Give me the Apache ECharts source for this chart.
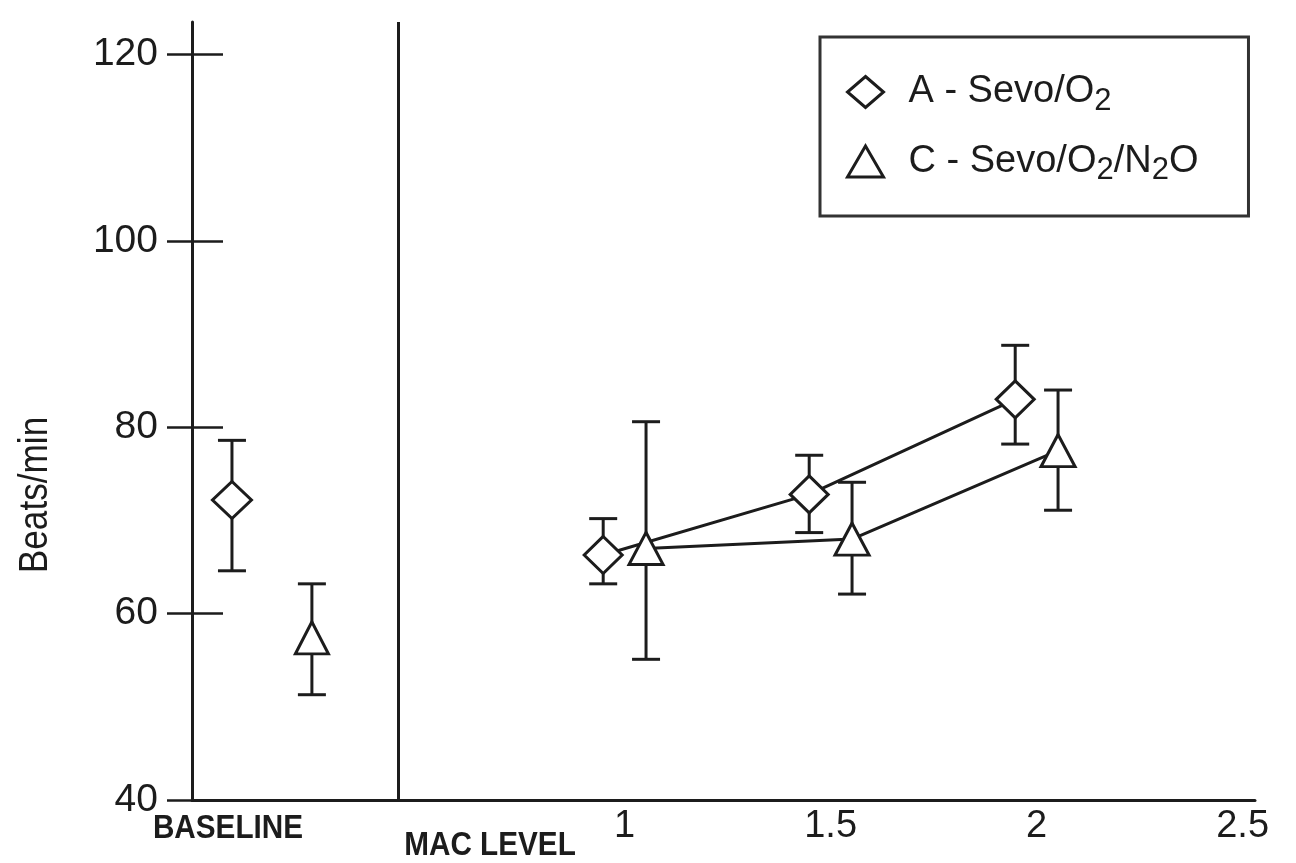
<!DOCTYPE html>
<html>
<head>
<meta charset="utf-8">
<script src="https://cdn.jsdelivr.net/npm/echarts@6/dist/echarts.min.js"></script>
<style>
html,body{margin:0;padding:0;background:#fff;}
#chart{width:1296px;height:863px;}
</style>
</head>
<body>
<div id="chart"></div>
<script>
// ---- data ----
const groups = ['A - Sevo/O2', 'C - Sevo/O2/N2O'];
const macLevels = [1, 1.5, 2];
const xTickLabels = [1, 1.5, 2, 2.5];
const yTickLabels = [40, 60, 80, 100, 120];

// baseline values [A, C]
const baseMean = [72.2, 57.4];
const baseLow  = [64.6, 51.3];
const baseHigh = [78.6, 63.2];

// group A at MAC 1, 1.5, 2
const aMean = [66.3, 72.8, 83.0];
const aLow  = [63.2, 68.7, 78.2];
const aHigh = [70.2, 77.0, 88.8];

// group C at MAC 1, 1.5, 2
const cMean = [67.0, 68.0, 77.5];
const cLow  = [55.1, 62.1, 71.1];
const cHigh = [80.6, 74.1, 84.0];

// ---- layout constants ----
const dodge = 0.052;
const baselinePos = [0.047, 0.241];
const separatorX = 0.445;
const INK = '#1c1c1c';
const capW = 28;
const FONT = 'Liberation Sans';

const markerStyle = {color: '#fff', borderColor: INK, borderWidth: 3, opacity: 1};

function renderErr(params, api) {
  const x = api.value(0);
  const top = api.coord([x, api.value(2)]);
  const bot = api.coord([x, api.value(1)]);
  const hw = capW / 2;
  const st = {stroke: INK, lineWidth: 3};
  return {
    type: 'group',
    children: [
      {type: 'line', shape: {x1: top[0], y1: top[1], x2: bot[0], y2: bot[1]}, style: st},
      {type: 'line', shape: {x1: top[0] - hw, y1: top[1], x2: top[0] + hw, y2: top[1]}, style: st},
      {type: 'line', shape: {x1: bot[0] - hw, y1: bot[1], x2: bot[0] + hw, y2: bot[1]}, style: st}
    ]
  };
}

const errA = macLevels.map((m, i) => [m - dodge, aLow[i], aHigh[i]]);
errA.push([baselinePos[0], baseLow[0], baseHigh[0]]);
const errC = macLevels.map((m, i) => [m + dodge, cLow[i], cHigh[i]]);
errC.push([baselinePos[1], baseLow[1], baseHigh[1]]);

const chart = echarts.init(document.getElementById('chart'), null, {renderer: 'canvas'});

const tickLine = {color: INK, width: 2.5};

chart.setOption({
  animation: false,
  backgroundColor: '#fff',
  grid: {left: 192, right: 41, top: 22, bottom: 63, containLabel: false, outerBoundsMode: 'none'},
  xAxis: {
    type: 'value', min: -0.05, max: 2.53,
    axisLine: {show: true, onZero: false, lineStyle: {color: INK, width: 3}},
    axisTick: {show: false},
    splitLine: {show: false},
    axisLabel: {
      customValues: xTickLabels,
      formatter: v => String(v),
      fontFamily: FONT, fontSize: 38, color: INK, margin: 8
    }
  },
  yAxis: [
    {
      type: 'value', min: 40, max: 123.5,
      axisLine: {show: true, onZero: false, lineStyle: {color: INK, width: 3}},
      axisTick: {show: true, customValues: yTickLabels, length: 25, lineStyle: tickLine},
      axisLabel: {customValues: yTickLabels, margin: 34, fontFamily: FONT, fontSize: 39, color: INK},
      splitLine: {show: false}
    },
    {
      type: 'value', min: 40, max: 123.5, position: 'left',
      axisLine: {show: false, onZero: false},
      axisTick: {show: true, inside: true, customValues: yTickLabels, length: 31, lineStyle: tickLine},
      axisLabel: {show: false},
      splitLine: {show: false}
    }
  ],
  legend: {
    orient: 'vertical', left: 820, top: 37,
    padding: [36, 50, 30, 26],
    itemGap: 26, itemWidth: 36, itemHeight: 31,
    borderColor: '#333', borderWidth: 3,
    selectedMode: false,
    itemStyle: markerStyle,
    data: [
      {name: groups[0], icon: 'diamond'},
      {name: groups[1], icon: 'triangle'}
    ],
    formatter: n => n.replace(/2/g, '{s|2}'),
    textStyle: {
      fontFamily: FONT, fontSize: 38, color: INK, padding: [0, 0, 0, 20],
      rich: {s: {fontFamily: FONT, fontSize: 31, color: INK, padding: [18, 0, 0, 0]}}
    }
  },
  graphic: [
    {type: 'text', x: 36, y: 495, rotation: Math.PI / 2, scaleX: 0.88,
     style: {text: 'Beats/min', font: '40px "Liberation Sans"', fill: INK, align: 'center', verticalAlign: 'middle'}},
    {type: 'text', x: 228, y: 829, scaleX: 0.9,
     style: {text: 'BASELINE', font: 'bold 33px "Liberation Sans"', fill: INK, align: 'center', verticalAlign: 'middle'}},
    {type: 'text', x: 490, y: 846, scaleX: 0.9,
     style: {text: 'MAC LEVEL', font: 'bold 33px "Liberation Sans"', fill: INK, align: 'center', verticalAlign: 'middle'}}
  ],
  series: [
    {type: 'custom', renderItem: renderErr, data: errA, encode: {x: 0, y: [1, 2]}, z: 1, silent: true},
    {type: 'custom', renderItem: renderErr, data: errC, encode: {x: 0, y: [1, 2]}, z: 1, silent: true},
    {
      name: groups[0], type: 'line', z: 3,
      data: macLevels.map((m, i) => [m - dodge, aMean[i]]),
      symbol: 'diamond', symbolSize: [38, 37], showAllSymbol: true,
      itemStyle: markerStyle, lineStyle: {color: INK, width: 3}
    },
    {
      name: groups[1], type: 'line', z: 3,
      data: macLevels.map((m, i) => [m + dodge, cMean[i]]),
      symbol: 'triangle', symbolSize: [34, 32], showAllSymbol: true,
      itemStyle: markerStyle, lineStyle: {color: INK, width: 3}
    },
    {
      name: groups[0], type: 'scatter', z: 3,
      data: [[baselinePos[0], baseMean[0]]],
      symbol: 'diamond', symbolSize: [39, 37], itemStyle: markerStyle,
      markLine: {
        silent: true, symbol: 'none', label: {show: false},
        lineStyle: {color: INK, width: 3, type: 'solid'},
        data: [{xAxis: separatorX}]
      }
    },
    {
      name: groups[1], type: 'scatter', z: 3,
      data: [[baselinePos[1], baseMean[1]]],
      symbol: 'triangle', symbolSize: [33, 32], itemStyle: markerStyle
    }
  ]
});
</script>
</body>
</html>
